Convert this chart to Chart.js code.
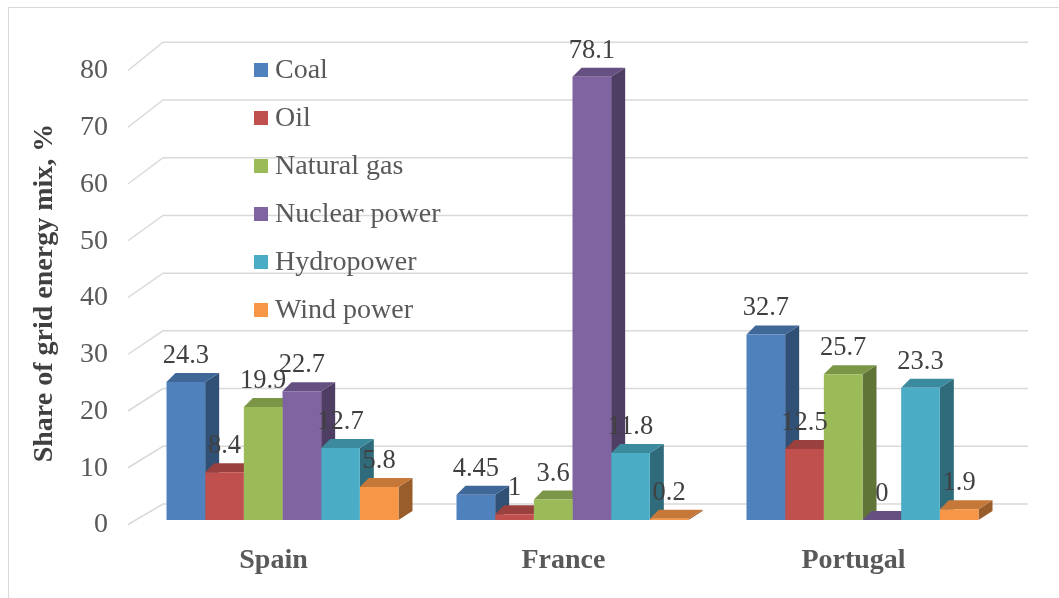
<!DOCTYPE html>
<html>
<head>
<meta charset="utf-8">
<script src="https://cdn.jsdelivr.net/npm/chart.js@4"></script>
<style>
  html, body { margin: 0; padding: 0; background: #fff; }
  canvas { display: block; }
</style>
</head>
<body>
<canvas id="energyChart" width="1059" height="598"></canvas>
<script>
// data
const categories = ["Spain", "France", "Portugal"];
const seriesNames = ["Coal", "Oil", "Natural gas", "Nuclear power", "Hydropower", "Wind power"];
const coal = [24.3, 4.45, 32.7];
const oil = [8.4, 1, 12.5];
const naturalGas = [19.9, 3.6, 25.7];
const nuclear = [22.7, 78.1, 0];
const hydro = [12.7, 11.8, 23.3];
const wind = [5.8, 0.2, 1.9];
const yTicks = [0, 10, 20, 30, 40, 50, 60, 70, 80];

const colors = ["#4F81BD", "#C0504D", "#9BBB59", "#8064A2", "#4BACC6", "#F79646"];
const serif = "'Liberation Serif', 'Times New Roman', serif";

function shade(hex, f) {
  const n = parseInt(hex.slice(1), 16);
  const r = Math.round(((n >> 16) & 255) * f);
  const g = Math.round(((n >> 8) & 255) * f);
  const b = Math.round((n & 255) * f);
  return "rgb(" + r + "," + g + "," + b + ")";
}

// 3d look: depth offsets
const DXL = 9, DXR = 14, DY = 9;

const gridPlugin = {
  id: "grid3d",
  beforeDatasetsDraw(chart) {
    const ctx = chart.ctx;
    const y = chart.scales.y;
    const bottom = chart.chartArea.bottom;
    ctx.save();
    ctx.strokeStyle = "#D9D9D9";
    ctx.lineWidth = 1.5;
    yTicks.forEach(v => {
      const yf = y.getPixelForValue(v);
      const yb = (bottom - 16) - (bottom - yf) * 1.017;
      ctx.beginPath();
      ctx.moveTo(128, yf + 4.5);
      ctx.lineTo(163, yb);
      ctx.lineTo(1028, yb);
      ctx.stroke();
    });
    ctx.restore();

    // side and top faces, left to right
    ctx.save();
    const n = chart.data.labels.length;
    for (let i = 0; i < n; i++) {
      chart.data.datasets.forEach((ds, d) => {
        const el = chart.getDatasetMeta(d).data[i];
        const x1 = el.x - el.width / 2, x2 = el.x + el.width / 2;
        const top = el.y, base = el.base;
        ctx.fillStyle = shade(colors[d], 0.62);
        ctx.beginPath();
        ctx.moveTo(x2, top);
        ctx.lineTo(x2 + DXR, top - DY);
        ctx.lineTo(x2 + DXR, base - DY);
        ctx.lineTo(x2, base);
        ctx.closePath();
        ctx.fill();
        ctx.fillStyle = shade(colors[d], 0.8);
        ctx.beginPath();
        ctx.moveTo(x1, top);
        ctx.lineTo(x1 + DXL, top - DY);
        ctx.lineTo(x2 + DXR, top - DY);
        ctx.lineTo(x2, top);
        ctx.closePath();
        ctx.fill();
      });
    }
    ctx.restore();
  },
  afterDatasetsDraw(chart) {
    const ctx = chart.ctx;
    ctx.save();
    ctx.font = "26.5px " + serif;
    ctx.fillStyle = "#404040";
    ctx.textAlign = "center";
    ctx.textBaseline = "alphabetic";
    chart.data.datasets.forEach((ds, d) => {
      chart.getDatasetMeta(d).data.forEach((el, i) => {
        ctx.fillText(String(ds.data[i]), el.x, el.y - 19);
      });
    });
    ctx.restore();
  },
  afterDraw(chart) {
    const ctx = chart.ctx;
    ctx.save();
    // outer frame
    ctx.strokeStyle = "#D9D9D9";
    ctx.lineWidth = 1;
    ctx.strokeRect(8.5, 7.5, 1200, 800);
    // legend
    ctx.font = "28px " + serif;
    ctx.textBaseline = "middle";
    ctx.textAlign = "left";
    chart.data.datasets.forEach((ds, d) => {
      const ry = 70 + d * 48;
      ctx.fillStyle = colors[d];
      ctx.fillRect(254, ry - 7, 14, 14);
      ctx.fillStyle = "#595959";
      ctx.fillText(ds.label, 275, ry + 1);
    });
    ctx.restore();
  }
};

const seriesValues = [coal, oil, naturalGas, nuclear, hydro, wind];

new Chart(document.getElementById("energyChart"), {
  type: "bar",
  data: {
    labels: categories,
    datasets: seriesNames.map((name, d) => ({
      label: name,
      data: seriesValues[d],
      backgroundColor: colors[d],
      borderWidth: 0
    }))
  },
  options: {
    responsive: false,
    animation: false,
    devicePixelRatio: 1,
    layout: { padding: { top: 66, right: 51.5, left: 0, bottom: 0 } },
    datasets: { bar: { barPercentage: 1, categoryPercentage: 0.8 } },
    plugins: {
      legend: { display: false },
      tooltip: { enabled: false }
    },
    scales: {
      x: {
        grid: { display: false, drawTicks: false },
        border: { display: false },
        ticks: {
          color: "#595959",
          font: { family: serif, size: 28, weight: "bold" },
          padding: 24,
          labelOffset: -9
        },
        afterFit(s) { s.height = 78; }
      },
      y: {
        min: 0,
        max: 80,
        grid: { display: false, drawTicks: false },
        border: { display: false },
        ticks: {
          stepSize: 10,
          color: "#595959",
          font: { family: serif, size: 28 },
          padding: 29.5,
          labelOffset: 5
        },
        title: {
          display: true,
          text: "Share of grid energy mix, %",
          color: "#404040",
          font: { family: serif, size: 28, weight: "bold" },
          padding: { top: 28, bottom: 0 }
        },
        afterFit(s) { s.width = 137.5; }
      }
    }
  },
  plugins: [gridPlugin]
});
</script>
</body>
</html>
